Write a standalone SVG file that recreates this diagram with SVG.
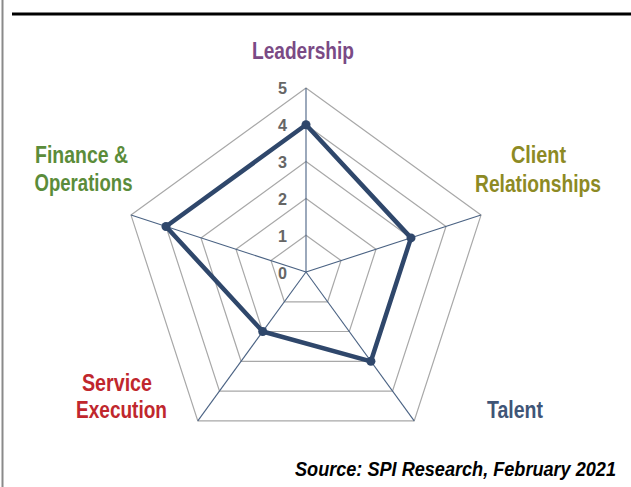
<svg xmlns="http://www.w3.org/2000/svg" width="631" height="487" viewBox="0 0 631 487">
<style>
.lbl{font-family:"Liberation Sans Narrow","Liberation Sans",Arial,sans-serif;font-weight:bold;font-size:23px;text-anchor:middle}
.num{font-family:"Liberation Sans Narrow","Liberation Sans",Arial,sans-serif;font-weight:bold;font-size:16.5px;fill:#666;text-anchor:end}
.grid{fill:none;stroke:#a8a8a8;stroke-width:1.2}
.spoke{stroke:#4a6283;stroke-width:1.1}
.data{fill:none;stroke:#2f476b;stroke-width:4.5;stroke-linejoin:round}
.pt{fill:#2f476b}
</style>
<rect width="631" height="487" fill="#fff"/>
<line x1="2.5" y1="0" x2="2.5" y2="487" stroke="#8a8a8a" stroke-width="2"/>
<line x1="12" y1="14" x2="631" y2="14" stroke="#000" stroke-width="3"/>
<g id="grid">
<polygon class="grid" points="306,88 481,215.1 414.2,420.9 197.8,420.9 131,215.1"/>
<polygon class="grid" points="306,124.8 446,226.5 392.5,391.1 219.5,391.1 166,226.5"/>
<polygon class="grid" points="306,161.6 411,237.9 370.9,361.3 241.1,361.3 201,237.9"/>
<polygon class="grid" points="306,198.4 376,249.3 349.3,331.5 262.7,331.5 236,249.3"/>
<polygon class="grid" points="306,235.2 341,260.6 327.6,301.8 284.4,301.8 271,260.6"/>
</g>
<g id="connectors">
<line class="spoke" x1="306" y1="272" x2="306" y2="88"/>
<line class="spoke" x1="306" y1="272" x2="481" y2="215.1"/>
<line class="spoke" x1="306" y1="272" x2="414.2" y2="420.9"/>
<line class="spoke" x1="306" y1="272" x2="197.8" y2="420.9"/>
<line class="spoke" x1="306" y1="272" x2="131" y2="215.1"/>
</g>
<g id="scale">
<text class="num" x="287" y="94" textLength="9" lengthAdjust="spacingAndGlyphs">5</text>
<text class="num" x="287" y="131" textLength="9" lengthAdjust="spacingAndGlyphs">4</text>
<text class="num" x="287" y="168" textLength="9" lengthAdjust="spacingAndGlyphs">3</text>
<text class="num" x="287" y="205" textLength="9" lengthAdjust="spacingAndGlyphs">2</text>
<text class="num" x="287" y="242" textLength="9" lengthAdjust="spacingAndGlyphs">1</text>
<text class="num" x="287" y="279" textLength="9" lengthAdjust="spacingAndGlyphs">0</text>
</g>
<g id="series">
<polygon class="data" points="306,124.8 411,237.9 370.9,361.3 262.7,331.5 166,226.5"/>
<circle class="pt" cx="306" cy="124.8" r="4.5"/>
<circle class="pt" cx="411" cy="237.9" r="4.5"/>
<circle class="pt" cx="370.9" cy="361.3" r="4.5"/>
<circle class="pt" cx="262.7" cy="331.5" r="4.5"/>
<circle class="pt" cx="166" cy="226.5" r="4.5"/>
</g>
<g id="leadership"><text class="lbl" x="303" y="59" fill="#7a4a85" textLength="102" lengthAdjust="spacingAndGlyphs">Leadership</text></g>
<g id="client"><text class="lbl" fill="#8d8a24"><tspan x="538.5" y="163" textLength="55" lengthAdjust="spacingAndGlyphs">Client</tspan><tspan x="538" y="192" textLength="126" lengthAdjust="spacingAndGlyphs">Relationships</tspan></text></g>
<g id="talent"><text class="lbl" x="515" y="418" fill="#3f5577" textLength="56" lengthAdjust="spacingAndGlyphs">Talent</text></g>
<g id="service"><text class="lbl" fill="#c0272d"><tspan x="117" y="391" textLength="70" lengthAdjust="spacingAndGlyphs">Service</tspan><tspan x="121.5" y="418" textLength="91" lengthAdjust="spacingAndGlyphs">Execution</tspan></text></g>
<g id="finance"><text class="lbl" fill="#5b8c3a"><tspan x="81.5" y="163" textLength="93" lengthAdjust="spacingAndGlyphs">Finance &amp;</tspan><tspan x="83.5" y="191" textLength="98" lengthAdjust="spacingAndGlyphs">Operations</tspan></text></g>
<text x="616" y="476" font-family="&quot;Liberation Sans Narrow&quot;,&quot;Liberation Sans&quot;,Arial,sans-serif" font-weight="bold" font-style="italic" font-size="21" text-anchor="end" fill="#000" textLength="321" lengthAdjust="spacingAndGlyphs">Source: SPI Research, February 2021</text>
</svg>
